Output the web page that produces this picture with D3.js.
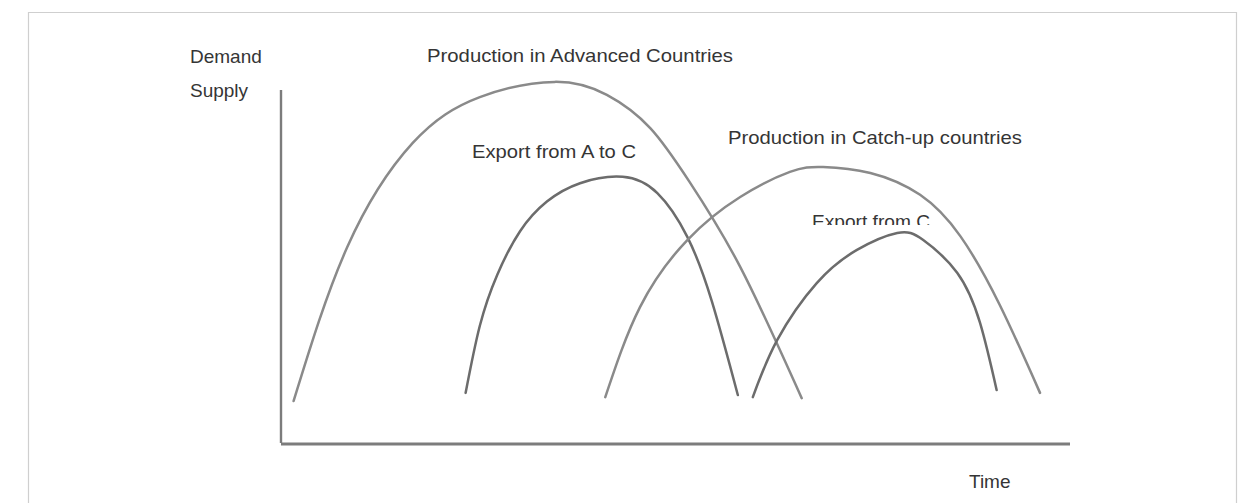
<!DOCTYPE html>
<html>
<head>
<meta charset="utf-8">
<script src="https://cdn.jsdelivr.net/npm/d3@7"></script>
<style>
    html, body { margin: 0; padding: 0; background: #fff; }
    svg { display: block; }
    text { font-family: 'Liberation Sans', Arial, sans-serif; fill: #353535; }
</style>
</head>
<body>
<svg id="chart"></svg>
<script>
// time (0-100) and demand/supply level (0-100)
const advancedProduction = [
    [1.6, 11.9], [8.4, 55.5], [16.7, 85.0], [25.2, 98.0], [34.7, 102.3],
    [41.3, 98.6], [46.8, 89.2], [51.8, 73.9], [58.2, 49.9], [66.0, 12.7]
];
const exportAtoC = [
    [23.4, 14.2], [25.2, 33.2], [27.4, 47.6], [30.3, 60.0], [33.7, 68.4], [37.9, 73.6],
    [43.3, 75.4], [47.7, 70.8], [51.5, 58.4], [54.6, 40.2], [57.9, 13.6]
];
const catchupProduction = [
    [41.1, 13.0], [45.5, 38.5], [51.5, 57.5], [58.2, 69.7], [64.5, 76.8], [68.7, 78.2],
    [74.7, 76.5], [81.0, 70.3], [86.1, 58.6], [91.1, 39.1], [96.2, 14.2]
];
const exportFromC = [
    [59.8, 13.0], [62.9, 29.2], [67.9, 45.3], [73.0, 54.7], [78.1, 59.5], [81.4, 57.5],
    [85.7, 48.2], [88.6, 34.0], [90.7, 15.0]
];

const curves = [
    { name: 'Production in Advanced Countries', values: advancedProduction, color: '#8a8a8a' },
    { name: 'Export from A to C', values: exportAtoC, color: '#6c6c6c' },
    { name: 'Production in Catch-up countries', values: catchupProduction, color: '#8a8a8a' },
    { name: 'Export from C', values: exportFromC, color: '#6c6c6c' }
];

const labels = [
    { text: 'Demand', x: 190, y: 63 },
    { text: 'Supply', x: 190, y: 97 },
    { text: 'Production in Advanced Countries', x: 427, y: 62, len: 306 },
    { text: 'Export from A to C', x: 472, y: 158, len: 164 },
    { text: 'Production in Catch-up countries', x: 728, y: 144, len: 294 },
    { text: 'Time', x: 969, y: 488 }
];
const clippedLabel = { text: 'Export from C', x: 812, y: 228, len: 118 };

const width = 1249, height = 503;
const svg = d3.select('#chart').attr('width', width).attr('height', height);

// outer frame, open at the bottom
svg.append('path')
    .attr('d', 'M28.5,' + height + 'V12.5H1236.5V' + height)
    .attr('fill', 'none')
    .attr('stroke', '#cfcfcf')
    .attr('stroke-width', 1.2);

const x = d3.scaleLinear().domain([0, 100]).range([281, 1070]);
const y = d3.scaleLinear().domain([0, 100]).range([443, 90]);

// axes: plain lines, no ticks
svg.append('line')
    .attr('x1', x(0)).attr('x2', x(0))
    .attr('y1', y(0)).attr('y2', y(100))
    .attr('stroke', '#7c7c7c').attr('stroke-width', 2.4);
svg.append('line')
    .attr('x1', x(0)).attr('x2', x(100))
    .attr('y1', y(0) + 1).attr('y2', y(0) + 1)
    .attr('stroke', '#7c7c7c').attr('stroke-width', 2.8);

const line = d3.line()
    .x(function (d) { return x(d[0]); })
    .y(function (d) { return y(d[1]); })
    .curve(d3.curveNatural);

svg.selectAll('.curve')
    .data(curves).enter().append('path')
    .attr('class', 'curve')
    .attr('d', function (d) { return line(d.values); })
    .attr('fill', 'none')
    .attr('stroke', function (d) { return d.color; })
    .attr('stroke-width', 2.5)
    .attr('stroke-linecap', 'round');

svg.selectAll('.label')
    .data(labels).enter().append('text')
    .attr('class', 'label')
    .attr('x', function (d) { return d.x; })
    .attr('y', function (d) { return d.y; })
    .attr('font-size', 19)
    .each(function (d) {
        if (d.len) {
            d3.select(this).attr('textLength', d.len).attr('lengthAdjust', 'spacingAndGlyphs');
        }
    })
    .text(function (d) { return d.text; });

// the last label is cut off at the bottom in the original
svg.append('clipPath').attr('id', 'cut')
    .append('rect').attr('x', 800).attr('y', 200).attr('width', 130).attr('height', 25);
svg.append('text')
    .attr('clip-path', 'url(#cut)')
    .attr('x', clippedLabel.x)
    .attr('y', clippedLabel.y)
    .attr('font-size', 19)
    .attr('textLength', clippedLabel.len)
    .attr('lengthAdjust', 'spacingAndGlyphs')
    .text(clippedLabel.text);
</script>
</body>
</html>
